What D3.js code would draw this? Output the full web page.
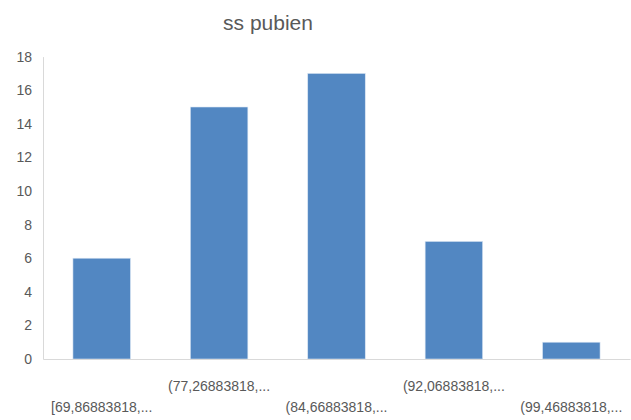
<!DOCTYPE html>
<html>
<head>
<meta charset="utf-8">
<script src="https://d3js.org/d3.v7.min.js"></script>
<style>
body { margin: 0; background: #fff; }
text { font-family: "Liberation Sans Narrow", "Liberation Sans", sans-serif; fill: #595959; }
</style>
</head>
<body>
<div id="chart"></div>
<script>
// histogram bins and counts
var bins = ["[69,86883818,...", "(77,26883818,...", "(84,66883818,...", "(92,06883818,...", "(99,46883818,..."];
var counts = [6, 15, 17, 7, 1];
var yTicks = [0, 2, 4, 6, 8, 10, 12, 14, 16, 18];

var width = 631, height = 420;
var svg = d3.select("#chart").append("svg")
    .attr("width", width)
    .attr("height", height);

var x = d3.scaleBand()
    .domain(bins)
    .range([43, 630])
    .paddingInner(0.51)
    .paddingOuter(0.255);
var y = d3.scaleLinear()
    .domain([0, 18])
    .range([359, 56.6]);

// title
svg.append("text")
    .attr("x", 268)
    .attr("y", 30)
    .attr("text-anchor", "middle")
    .style("font-size", "21px")
    .text("ss pubien");

// y axis
var yAxis = svg.append("g")
    .attr("transform", "translate(43,0)")
    .call(d3.axisLeft(y).tickValues(yTicks).tickSize(0).tickPadding(11));
yAxis.select(".domain").attr("stroke", "#d9d9d9");
yAxis.selectAll("text").style("font-size", "14px");

// bars
svg.selectAll(".bar")
    .data(counts)
  .enter().append("rect")
    .attr("class", "bar")
    .attr("x", function(d, i) { return x(bins[i]); })
    .attr("width", x.bandwidth())
    .attr("y", function(d) { return y(d); })
    .attr("height", function(d) { return y(0) - y(d); })
    .attr("fill", "#5287c2")
    .attr("stroke", "#dbe6f3")
    .attr("stroke-width", 0.6);

// x axis, labels staggered on two rows
var xAxis = svg.append("g")
    .attr("transform", "translate(0," + y(0) + ")")
    .call(d3.axisBottom(x).tickSize(0).tickPadding(0));
xAxis.select(".domain").attr("stroke", "#d9d9d9");
xAxis.selectAll("text")
    .style("font-size", "14px")
    .attr("dy", null)
    .attr("y", function(d, i) { return i % 2 == 1 ? 32 : 53; });
</script>
</body>
</html>
